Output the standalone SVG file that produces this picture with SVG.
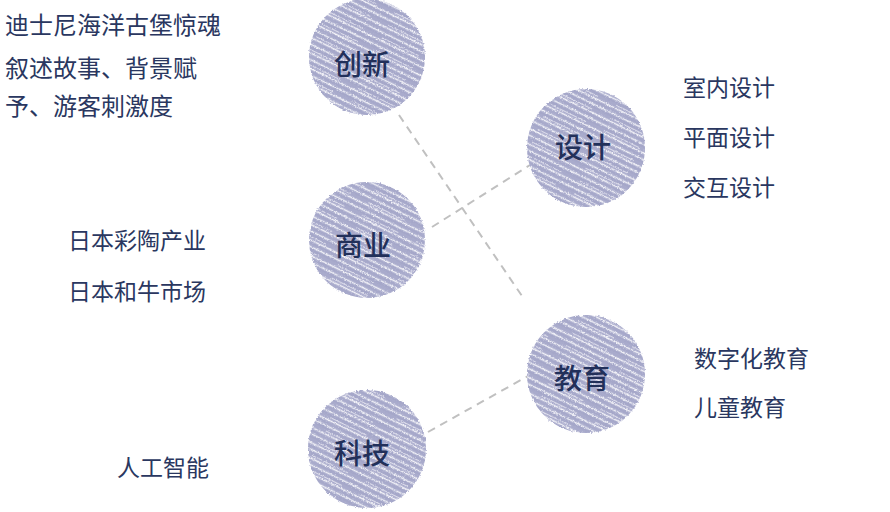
<svg xmlns="http://www.w3.org/2000/svg" width="890" height="512" viewBox="0 0 890 512">
<defs>
<pattern id="hatch" patternUnits="userSpaceOnUse" width="60" height="14" patternTransform="rotate(26)">
<rect width="60" height="14" fill="#a9abcc"/>
<line x1="0" y1="1.5" x2="60" y2="1.5" stroke="#ffffff" stroke-opacity="0.8" stroke-width="1.3"/>
<line x1="0" y1="4" x2="60" y2="4" stroke="#9599be" stroke-opacity="0.5" stroke-width="1"/>
<line x1="0" y1="6.5" x2="40" y2="6.5" stroke="#ffffff" stroke-opacity="0.6" stroke-width="1"/>
<line x1="0" y1="9.5" x2="60" y2="9.5" stroke="#ffffff" stroke-opacity="0.85" stroke-width="1.5"/>
<line x1="10" y1="12" x2="60" y2="12" stroke="#989cc0" stroke-opacity="0.45" stroke-width="0.8"/>
</pattern>
<filter id="rough" x="-10%" y="-10%" width="120%" height="120%">
<feTurbulence type="fractalNoise" baseFrequency="0.6" numOctaves="2" seed="3"/>
<feDisplacementMap in="SourceGraphic" scale="3" xChannelSelector="R" yChannelSelector="G"/>
</filter>
<style>
.c{fill:url(#hatch);filter:url(#rough)}
.lbl{font-family:"Noto Sans CJK SC","Noto Sans",sans-serif;font-size:28px;font-weight:500;fill:#22305a;text-anchor:middle}
.t{font-family:"Noto Sans CJK SC","Noto Sans",sans-serif;font-size:23px;fill:#2a3760}
.big{font-size:24px}
.d{stroke:#c0c0c0;stroke-width:2;stroke-dasharray:8 6;fill:none}
</style>
</defs>
<rect width="890" height="512" fill="#ffffff"/>
<g id="connectors">
<line class="d" x1="399" y1="115" x2="522" y2="296"/>
<line class="d" x1="432" y1="227" x2="530" y2="165"/>
<line class="d" x1="428" y1="432" x2="528" y2="376"/>
</g>
<g id="n-chuangxin">
<circle class="c" cx="367" cy="57" r="58"/>
<text class="lbl" x="362" y="75">创新</text>
</g>
<g id="n-shangye">
<circle class="c" cx="367" cy="240" r="58"/>
<text class="lbl" x="363" y="256">商业</text>
</g>
<g id="n-keji">
<circle class="c" cx="367" cy="449" r="59"/>
<text class="lbl" x="362" y="464">科技</text>
</g>
<g id="n-sheji">
<circle class="c" cx="586" cy="148" r="59"/>
<text class="lbl" x="583" y="158">设计</text>
</g>
<g id="n-jiaoyu">
<circle class="c" cx="586" cy="374" r="59"/>
<text class="lbl" x="582" y="389">教育</text>
</g>
<g id="t-chuangxin">
<text class="t big" x="5" y="34">迪士尼海洋古堡惊魂</text>
<text class="t big" x="5" y="77">叙述故事、背景赋</text>
<text class="t big" x="5" y="115">予、游客刺激度</text>
</g>
<g id="t-shangye">
<text class="t" x="68" y="249">日本彩陶产业</text>
<text class="t" x="68" y="300">日本和牛市场</text>
</g>
<g id="t-keji">
<text class="t" x="117" y="476">人工智能</text>
</g>
<g id="t-sheji">
<text class="t" x="683" y="96">室内设计</text>
<text class="t" x="683" y="146">平面设计</text>
<text class="t" x="683" y="196">交互设计</text>
</g>
<g id="t-jiaoyu">
<text class="t" x="694" y="367">数字化教育</text>
<text class="t" x="694" y="416">儿童教育</text>
</g>
</svg>
